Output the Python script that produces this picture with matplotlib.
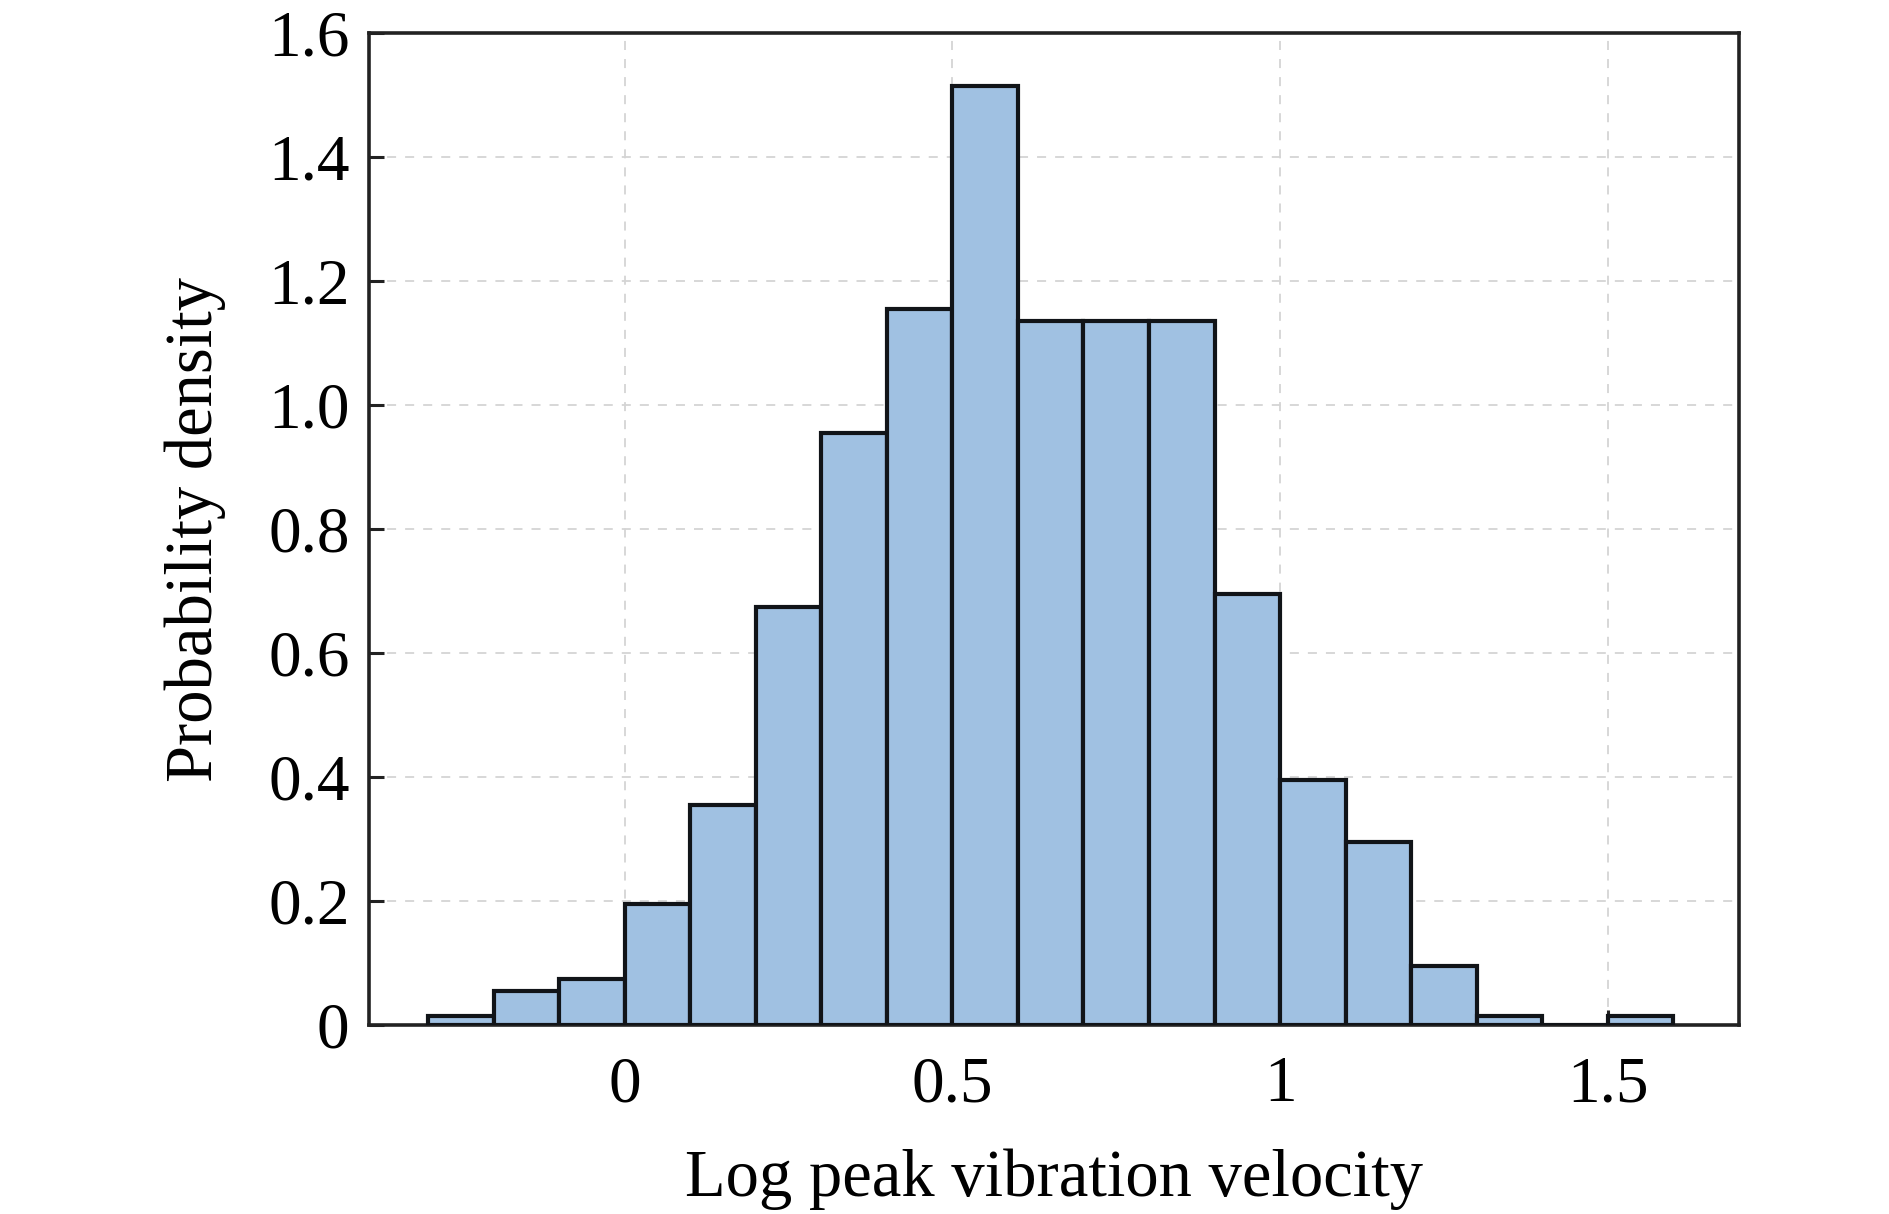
import matplotlib
matplotlib.use("Agg")
import matplotlib.pyplot as plt
import numpy as np

# Data
bin_left_edges = [-0.3, -0.2, -0.1, 0.0, 0.1, 0.2, 0.3, 0.4, 0.5, 0.6,
                  0.7, 0.8, 0.9, 1.0, 1.1, 1.2, 1.3, 1.4, 1.5]
density = [0.015, 0.055, 0.075, 0.195, 0.355, 0.675, 0.955, 1.155, 1.515, 1.135,
           1.135, 1.135, 0.695, 0.395, 0.295, 0.095, 0.015, 0.0, 0.015]
bin_width = 0.1
x_ticks = [0, 0.5, 1, 1.5]
x_tick_labels = ["0", "0.5", "1", "1.5"]
y_ticks = [0, 0.2, 0.4, 0.6, 0.8, 1.0, 1.2, 1.4, 1.6]
y_tick_labels = ["0", "0.2", "0.4", "0.6", "0.8", "1.0", "1.2", "1.4", "1.6"]

plt.rcParams['font.family'] = ['Liberation Serif', 'DejaVu Serif']

fig = plt.figure(figsize=(18.9, 12.14), dpi=100)
ax = fig.add_axes([369/1890, 1 - 1025/1214, (1739-369)/1890, (1025-33)/1214])

ax.bar(bin_left_edges, density, width=bin_width, align='edge',
       color='#a0c1e2', edgecolor='#111418', linewidth=3.0, zorder=3)

ax.set_xlim(-0.39, 1.70)
ax.set_ylim(0, 1.6)
ax.set_xticks(x_ticks)
ax.set_xticklabels(x_tick_labels)
ax.set_yticks(y_ticks)
ax.set_yticklabels(y_tick_labels)

ax.grid(True, color='#d4d4d4', linestyle=(0, (5, 5)), linewidth=1.3, zorder=0)
ax.set_axisbelow(True)

ax.tick_params(axis='both', direction='in', length=11, width=2.2, color='#222222',
               labelsize=47, top=False, right=False)
ax.tick_params(axis='y', pad=14)
ax.tick_params(axis='x', pad=22)

for s in ax.spines.values():
    s.set_linewidth(2.6)
    s.set_color('#222222')

ax.set_xlabel('Log peak vibration velocity', fontsize=48, labelpad=24)
ax.set_ylabel('Probability density', fontsize=48, labelpad=30)

fig.savefig('out.png', dpi=100)
